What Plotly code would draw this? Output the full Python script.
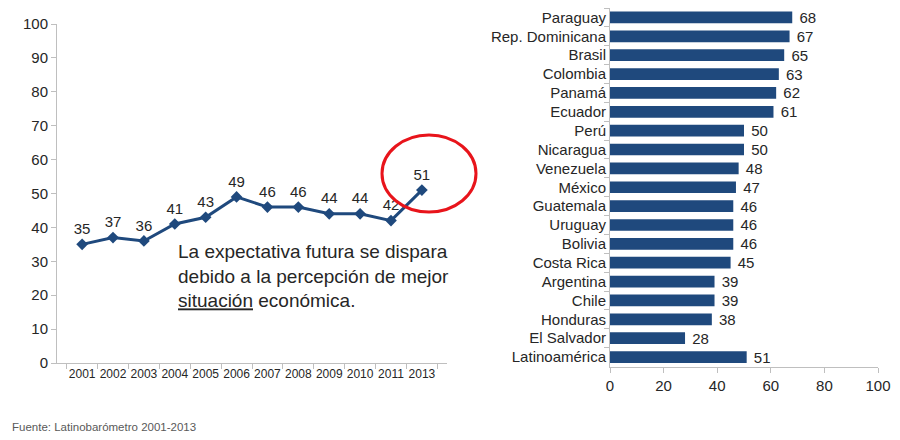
import plotly.graph_objects as go

years = ["2001", "2002", "2003", "2004", "2005", "2006", "2007", "2008", "2009", "2010", "2011", "2013"]
year_values = [35, 37, 36, 41, 43, 49, 46, 46, 44, 44, 42, 51]

countries = ["Paraguay", "Rep. Dominicana", "Brasil", "Colombia", "Panamá", "Ecuador", "Perú",
             "Nicaragua", "Venezuela", "México", "Guatemala", "Uruguay", "Bolivia", "Costa Rica",
             "Argentina", "Chile", "Honduras", "El Salvador", "Latinoamérica"]
country_values = [68, 67, 65, 63, 62, 61, 50, 50, 48, 47, 46, 46, 46, 45, 39, 39, 38, 28, 51]

y_ticks = list(range(0, 101, 10))
x2_ticks = list(range(0, 101, 20))

BLUE = "#1f497d"
FONT = "Liberation Sans, Arial, sans-serif"
TXT = "#262626"
AX = "#bfbfbf"

# the page body adds an 8px offset; the figure is sized to fit the 900x440 window
W, H, OFF = 892, 432, 8


def px_x(p):
    return (p - OFF) / W


def px_y(p):
    return 1 - (p - OFF) / H


fig = go.Figure()

fig.add_trace(go.Scatter(
    x=years, y=year_values, mode="lines+markers+text",
    line=dict(color=BLUE, width=3),
    marker=dict(symbol="diamond", size=9, color=BLUE),
    text=[str(v) for v in year_values], textposition="top center",
    textfont=dict(size=15, color=TXT, family=FONT),
    xaxis="x", yaxis="y", showlegend=False, cliponaxis=False,
))

fig.add_trace(go.Bar(
    x=country_values, y=countries, orientation="h",
    marker=dict(color=BLUE, line=dict(width=0)),
    text=[" " + str(v) for v in country_values], textposition="outside",
    constraintext="none",
    textfont=dict(size=15, color=TXT, family=FONT),
    outsidetextfont=dict(size=15, color=TXT, family=FONT),
    xaxis="x2", yaxis="y2", showlegend=False, cliponaxis=False,
))

fig.update_layout(
    width=W, height=H,
    margin=dict(l=0, r=0, t=0, b=0, autoexpand=False),
    paper_bgcolor="white", plot_bgcolor="white",
    font=dict(family=FONT, color=TXT),
    bargap=0.38,
    xaxis=dict(domain=[px_x(57), px_x(447)], type="category", tickson="boundaries",
               ticks="outside", ticklen=5, tickcolor=AX, tickangle=0, automargin=False,
               showline=True, linecolor=AX, linewidth=1, showgrid=False,
               tickfont=dict(size=12, color=TXT), anchor="y"),
    yaxis=dict(domain=[px_y(363), px_y(24)], range=[0, 100], tickvals=y_ticks,
               ticks="outside", ticklen=5, tickcolor=AX, automargin=False,
               showline=True, linecolor=AX, linewidth=1, showgrid=False,
               zeroline=False, tickfont=dict(size=15, color=TXT), anchor="x"),
    xaxis2=dict(domain=[px_x(610), px_x(878)], range=[0, 100], tickvals=x2_ticks,
                ticks="outside", ticklen=5, tickcolor=AX, automargin=False,
                showline=True, linecolor=AX, linewidth=1, showgrid=False,
                zeroline=False, tickfont=dict(size=15, color=TXT), anchor="y2"),
    yaxis2=dict(domain=[px_y(366.5), 1.0], type="category", range=[18.5, -0.5],
                tickson="boundaries", ticks="outside", ticklen=5, tickcolor=AX,
                automargin=False,
                showline=True, linecolor=AX, linewidth=1, showgrid=False,
                tickfont=dict(size=15, color=TXT), anchor="x2"),
    shapes=[dict(type="circle", xref="paper", yref="paper",
                 x0=px_x(382), x1=px_x(476), y0=px_y(212), y1=px_y(135),
                 line=dict(color="#e8141b", width=3))],
    annotations=[
        dict(text="La expectativa futura se dispara<br>debido a la percepción de mejor<br>"
                  "<span style='text-decoration:underline'>situación</span> económica.",
             xref="paper", yref="paper", x=px_x(176), y=px_y(239),
             xanchor="left", yanchor="top", align="left", showarrow=False,
             font=dict(size=19, color=TXT, family=FONT)),
        dict(text="Fuente: Latinobarómetro 2001-2013", xref="paper", yref="paper",
             x=px_x(10), y=px_y(427), xanchor="left", yanchor="middle", showarrow=False,
             font=dict(size=11.5, color="#595959", family=FONT)),
    ],
)

fig.write_html("out.html")
